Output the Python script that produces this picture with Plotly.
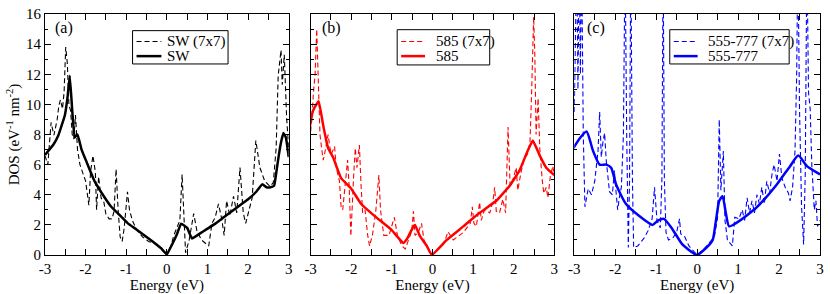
import plotly.graph_objects as go

# ---------------- data ----------------
# Panel (a): SW
sw7_e = [-3.0, -2.93, -2.85, -2.78, -2.70, -2.66, -2.62, -2.57, -2.53, -2.49, -2.45, -2.41, -2.37,
         -2.33, -2.29, -2.25, -2.2, -2.14, -2.0, -1.92, -1.88, -1.82, -1.76, -1.73, -1.68, -1.62,
         -1.55, -1.5, -1.42, -1.35, -1.3, -1.25, -1.2, -1.15, -1.1, -1.05, -0.97, -0.92, -0.85,
         -0.75, -0.6, -0.45, -0.3, -0.15, 0.0, 0.1, 0.17, 0.25, 0.32, 0.375, 0.42, 0.46, 0.55,
         0.66, 0.74, 0.85, 1.03, 1.11, 1.19, 1.27, 1.35, 1.41, 1.47, 1.55, 1.64, 1.72, 1.80,
         1.88, 1.94, 2.05, 2.1, 2.19, 2.29, 2.41, 2.54, 2.62, 2.69, 2.74, 2.81, 2.84, 2.89,
         2.95, 3.0]
sw7_dos = [6.6, 6.0, 8.8, 7.95, 9.0, 9.9, 10.3, 9.7, 10.8, 13.8, 12.7, 9.9, 9.6,
           8.0, 7.7, 9.3, 7.0, 6.0, 4.9, 3.3, 5.5, 6.6, 5.5, 3.0, 5.2, 3.8,
           3.5, 2.7, 2.4, 2.4, 2.9, 5.7, 3.0, 1.2, 0.9, 1.8, 4.2, 3.0, 2.3,
           1.7, 1.2, 0.9, 0.75, 0.5, 0.0, 0.6, 1.3, 1.8, 2.3, 5.35, 2.5, 0.15, 1.0,
           2.75, 1.6, 1.0, 0.6, 2.1, 2.5, 3.4, 2.4, 1.3, 3.6, 2.6, 3.9, 2.8, 5.8,
           2.8, 2.1, 3.3, 3.8, 7.6, 5.8, 4.9, 4.55, 4.8, 7.1, 11.9, 13.6, 11.3, 13.3,
           9.0, 7.1]
sw_e = [-3.0, -2.8, -2.67, -2.51, -2.44, -2.39, -2.33, -2.27, -2.2, -2.1, -1.98, -1.78, -1.6,
        -1.37, -1.2, -0.96, -0.75, -0.55, -0.35, -0.14, 0.0, 0.11, 0.25, 0.35, 0.50, 0.58,
        0.62, 0.8, 1.0, 1.2, 1.4, 1.6, 1.8, 2.0, 2.2, 2.35, 2.45, 2.55, 2.64, 2.7, 2.76,
        2.82, 2.87, 2.93, 3.0]
sw_dos = [6.65, 7.3, 7.95, 9.3, 10.6, 11.9, 9.6, 7.8, 8.0, 7.0, 6.2, 4.9, 4.1,
          3.2, 2.75, 2.1, 1.7, 1.3, 0.9, 0.44, 0.05, 0.6, 1.4, 2.08, 1.8, 1.3,
          1.1, 1.4, 1.75, 2.1, 2.5, 2.9, 3.3, 3.7, 4.2, 4.7, 4.5, 4.5, 4.6, 5.6, 6.7,
          7.6, 8.1, 7.8, 6.5]

# Panel (b): 585
d585_7_e = [-3.0, -2.97, -2.93, -2.89, -2.85, -2.81, -2.77, -2.73, -2.69, -2.65, -2.57, -2.53,
            -2.49, -2.41, -2.37, -2.29, -2.25, -2.21, -2.13, -2.09, -2.05, -2.01, -1.94, -1.90,
            -1.86, -1.80, -1.76, -1.72, -1.66, -1.60, -1.55, -1.48, -1.40, -1.32, -1.28, -1.20,
            -1.07, -0.94, -0.86, -0.75, -0.67, -0.56, -0.51, -0.47, -0.43, -0.35, -0.27, -0.21,
            -0.10, 0.0, 0.2, 0.30, 0.38, 0.51, 0.76, 0.93, 0.98, 1.02, 1.08, 1.16, 1.20, 1.28,
            1.41, 1.49, 1.53, 1.57, 1.65, 1.73, 1.80, 1.86, 1.91, 1.98, 2.06, 2.10, 2.18, 2.26,
            2.34, 2.40, 2.44, 2.49, 2.52, 2.55, 2.60, 2.64, 2.70, 2.74, 2.80, 2.84, 2.90, 2.96,
            3.0]
d585_7_dos = [8.2, 9.0, 10.8, 12.0, 15.0, 11.5, 8.0, 7.1, 6.3, 6.8, 8.0, 7.2,
              6.7, 7.2, 5.8, 4.9, 3.2, 3.0, 5.3, 6.3, 4.5, 1.25, 5.3, 7.1,
              5.8, 7.3, 4.7, 2.8, 3.0, 1.4, 0.6, 1.3, 2.8, 5.3, 3.0, 1.3,
              1.3, 2.5, 1.25, 0.6, 0.4, 1.3, 1.6, 2.9, 1.3, 1.5, 2.1, 1.0,
              0.4, 0.0, 0.6, 0.9, 1.55, 1.0, 1.5, 2.1, 3.2, 2.1, 1.9, 3.5, 2.3, 3.0,
              2.8, 3.6, 4.5, 2.9, 2.8, 3.7, 2.8, 8.5, 4.6, 5.0, 5.8, 4.3, 5.5, 6.4,
              6.7, 7.5, 10.8, 15.8, 13.2, 8.0, 10.4, 7.1, 5.0, 4.1, 4.5, 3.8, 5.2, 5.9,
              5.3]
d585_e = [-3.05, -2.95, -2.88, -2.8, -2.69, -2.57, -2.45, -2.25, -2.0, -1.76, -1.43, -1.02,
          -0.72, -0.62, -0.47, -0.43, -0.31, -0.14, -0.02, 0.35, 0.76, 1.16, 1.57, 1.9, 2.14,
          2.34, 2.47, 2.64, 2.8, 3.0]
d585_dos = [8.1, 9.5, 9.9, 10.2, 8.6, 7.1, 6.5, 5.1, 4.4, 3.4, 2.6, 1.7,
            0.8, 1.1, 1.9, 2.0, 1.25, 0.6, 0.0, 1.0, 1.9, 2.8, 3.6, 4.6, 5.6,
            6.9, 7.6, 6.6, 5.8, 5.3]

# Panel (c): 555-777
d555_7_e = [-3.0, -2.97, -2.94, -2.91, -2.88, -2.85, -2.82, -2.78, -2.74, -2.66, -2.58, -2.50,
            -2.42, -2.38, -2.34, -2.30, -2.26, -2.22, -2.14, -2.07, -2.02, -1.98, -1.94, -1.90,
            -1.85, -1.80, -1.76, -1.72, -1.68, -1.65, -1.62, -1.58, -1.55, -1.45, -1.30, -1.20,
            -1.10, -1.04, -0.98, -0.90, -0.86, -0.83, -0.80, -0.76, -0.70, -0.60, -0.50, -0.43,
            -0.40, -0.30, -0.20, 0.0, 0.2, 0.42, 0.50, 0.54, 0.58, 0.64, 0.68, 0.74, 0.86, 0.92,
            1.02, 1.10, 1.16, 1.22, 1.28, 1.34, 1.40, 1.46, 1.52, 1.58, 1.64, 1.70, 1.77, 1.83,
            1.88, 1.95, 2.01, 2.07, 2.15, 2.23, 2.27, 2.33, 2.39, 2.43, 2.46, 2.50, 2.55, 2.60,
            2.64, 2.68, 2.72, 2.76, 2.80, 2.86, 2.90, 2.94, 3.0]
d555_7_dos = [9.5, 14.0, 20.0, 11.0, 20.0, 12.0, 20.0, 8.0, 3.2, 4.4, 4.0, 4.9,
              6.9, 9.5, 6.5, 7.5, 8.1, 6.3, 4.2, 4.0, 5.6, 4.2, 3.0, 3.8,
              4.5, 8.0, 20.0, 8.0, 0.5, 5.0, 20.0, 5.0, 0.5, 0.6, 1.1, 1.6,
              2.4, 4.5, 2.3, 1.8, 5.0, 20.0, 5.0, 1.5, 1.0, 1.1, 1.5, 2.4,
              1.4, 1.2, 0.6, 0.0, 0.5, 1.2, 2.5, 9.0, 4.3, 6.9, 2.3, 1.0, 0.6, 2.5,
              2.4, 3.0, 2.3, 3.8, 2.8, 3.6, 2.8, 4.0, 3.4, 4.5, 3.4, 4.9, 4.1, 5.4,
              6.0, 4.9, 6.7, 5.1, 4.5, 4.1, 3.6, 4.5, 6.9, 11.9, 20.0, 9.7, 3.2, 0.7,
              5.4, 20.0, 10.8, 9.7, 6.0, 3.0, 3.6, 1.9, 2.3]
d555_e = [-3.02, -2.85, -2.70, -2.54, -2.38, -2.22, -2.10, -1.98, -1.74, -1.42, -1.09, -0.95,
          -0.81, -0.6, -0.36, -0.08, 0.0, 0.26, 0.38, 0.46, 0.54, 0.62, 0.70, 0.78, 0.94,
          1.34, 1.54, 1.95, 2.27, 2.47, 2.68, 2.97, 3.0]
d555_dos = [7.1, 7.8, 8.2, 6.9, 6.0, 6.0, 5.8, 4.7, 3.4, 2.6, 2.0, 2.3,
            2.4, 1.7, 0.7, 0.1, 0.0, 0.58, 1.0, 2.3, 3.6, 3.9, 2.8, 1.9, 2.1,
            2.9, 3.4, 4.7, 5.9, 6.6, 5.9, 5.4, 5.35]

x_ticks = [-3, -2, -1, 0, 1, 2, 3]
x_tick_labels = ["-3", "-2", "-1", "0", "1", "2", "3"]
y_ticks = [0, 2, 4, 6, 8, 10, 12, 14, 16]
y_tick_labels = ["0", "2", "4", "6", "8", "10", "12", "14", "16"]

panels = [
    dict(tag="(a)", color="black", dname="SW (7x7)", sname="SW",
         de=sw7_e, dd=sw7_dos, se=sw_e, sd=sw_dos, smooth=0.3),
    dict(tag="(b)", color="#ff0000", dname="585 (7x7)", sname="585",
         de=d585_7_e, dd=d585_7_dos, se=d585_e, sd=d585_dos, smooth=0.3),
    dict(tag="(c)", color="#0000ff", dname="555-777 (7x7)", sname="555-777",
         de=d555_7_e, dd=d555_7_dos, se=d555_e, sd=d555_dos, smooth=0.6),
]

FONT = "'Liberation Serif', 'Times New Roman', Times, serif"
W, H = 830, 294
ML, MR, MT, MB = 45, 6, 11, 37
PH = H - MT - MB
pw = W - ML - MR
dom_px = [(45, 290), (312, 557), (577, 824)]
# legend box geometry in pixels: (left, right, top, bottom, sample_x0, sample_x1, text_x)
legend_geo = [(133, 229, 28, 62, 137, 162, 166),
              (399, 492, 27, 63, 403, 427, 436),
              (673, 793, 27, 62, 677, 701, 709)]
row_y = [39, 54]
tag_x = [-2.8, -2.76, -2.73]

fig = go.Figure()
layout = dict(
    width=W, height=H,
    margin=dict(l=ML, r=MR, t=MT, b=MB, pad=0),
    paper_bgcolor="white", plot_bgcolor="white",
    font=dict(family=FONT, size=15, color="black"),
    showlegend=False,
)
annotations = []
shapes = []
for i, p in enumerate(panels):
    n = "" if i == 0 else str(i + 1)
    xa, ya = "x" + n, "y" + n
    fig.add_trace(go.Scatter(x=p["de"], y=p["dd"], mode="lines", name=p["dname"],
                             line=dict(color=p["color"], width=1.1, dash="5px,3px"),
                             xaxis=xa, yaxis=ya))
    fig.add_trace(go.Scatter(x=p["se"], y=p["sd"], mode="lines", name=p["sname"],
                             line=dict(color=p["color"], width=2.5, shape="spline",
                                       smoothing=p["smooth"]),
                             xaxis=xa, yaxis=ya))
    left, right = dom_px[i]
    d0 = (left - ML) / pw
    d1 = (right - ML) / pw
    axis_common = dict(showgrid=False, zeroline=False, showline=True, linecolor="black",
                       linewidth=1, mirror="allticks", ticks="inside", tickcolor="black",
                       ticklen=6, tickwidth=1, tickfont=dict(family=FONT, size=15))
    layout["xaxis" + n] = dict(
        axis_common, domain=[d0, d1], range=[-3, 3], anchor=ya,
        tickmode="array", tickvals=x_ticks, ticktext=x_tick_labels,
        minor=dict(dtick=0.5, ticks="inside", ticklen=6, tickcolor="black", tick0=0),
        title=dict(text="Energy (eV)", font=dict(family=FONT, size=15), standoff=0),
    )
    yax = dict(
        axis_common, domain=[0, 1], range=[0, 16], anchor=xa,
        tickmode="array", tickvals=y_ticks, ticktext=y_tick_labels,
        minor=dict(dtick=1, ticks="inside", ticklen=3, tickcolor="black", tick0=0),
        showticklabels=(i == 0),
    )
    if i == 0:
        yax["title"] = dict(text="DOS (eV<sup>-1</sup> nm<sup>-2</sup>)",
                            font=dict(family=FONT, size=15), standoff=2)
    layout["yaxis" + n] = yax

    # legend drawn inside each panel
    pw_i = right - left
    fx = lambda px: (px - left) / pw_i
    fy = lambda py: (H - MB - py) / PH
    lb = legend_geo[i]
    xd, yd = xa + " domain", ya + " domain"
    shapes.append(dict(type="rect", xref=xd, yref=yd, x0=fx(lb[0]), x1=fx(lb[1]),
                       y0=fy(lb[3]), y1=fy(lb[2]), line=dict(color="black", width=1),
                       fillcolor="white", layer="above"))
    for r, (nm, lw, dash) in enumerate([(p["dname"], 1.1, "5px,3px"), (p["sname"], 2.5, "solid")]):
        shapes.append(dict(type="line", xref=xd, yref=yd, x0=fx(lb[4]), x1=fx(lb[5]),
                           y0=fy(row_y[r]), y1=fy(row_y[r]), layer="above",
                           line=dict(color=p["color"], width=lw, dash=dash)))
        annotations.append(dict(text=nm, xref=xd, yref=yd, x=fx(lb[6]), y=fy(row_y[r]),
                                xanchor="left", yanchor="middle", showarrow=False,
                                font=dict(family=FONT, size=15, color="black")))
    annotations.append(dict(text=p["tag"], x=tag_x[i], y=15.1,
                            xref=xa, yref=ya, xanchor="left", yanchor="middle",
                            showarrow=False, font=dict(family=FONT, size=16)))
layout["annotations"] = annotations
layout["shapes"] = shapes
fig.update_layout(**layout)
fig.write_html("out.html", config={"displayModeBar": False},
               post_script="document.body.style.margin='0';document.body.style.padding='0';")
